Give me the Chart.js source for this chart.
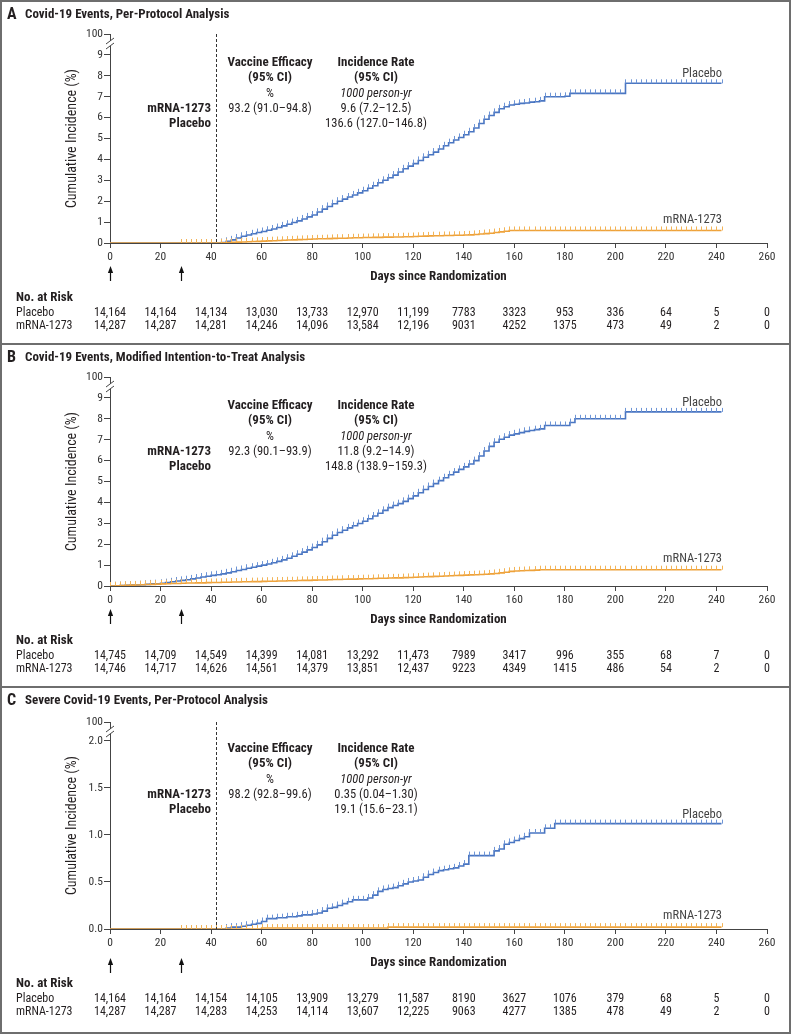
<!DOCTYPE html>
<html>
<head>
<meta charset="utf-8">
<title>Cumulative incidence of Covid-19 events</title>
<script src="https://cdn.jsdelivr.net/npm/chart.js@4.4.1/dist/chart.umd.min.js"></script>
<style>
  body { margin: 0; background: #fff; }
  #fig { width: 787px; border: 2px solid #6e6e6e; }
  .panel { border-bottom: 2px solid #6e6e6e; }
  .panel:last-child { border-bottom: none; }
  canvas { display: block; }
</style>
</head>
<body>
<div id="fig">
  <div class="panel"><canvas id="panelA" width="787" height="341"></canvas></div>
  <div class="panel"><canvas id="panelB" width="787" height="341"></canvas></div>
  <div class="panel"><canvas id="panelC" width="787" height="344"></canvas></div>
</div>
<script>
"use strict";

// 1: data (every 2 days)
const days = [
  0, 2, 4, 6, 8, 10, 12, 14, 16, 18,
  20, 22, 24, 26, 28, 30, 32, 34, 36, 38,
  40, 42, 44, 46, 48, 50, 52, 54, 56, 58,
  60, 62, 64, 66, 68, 70, 72, 74, 76, 78,
  80, 82, 84, 86, 88, 90, 92, 94, 96, 98,
  100, 102, 104, 106, 108, 110, 112, 114, 116, 118,
  120, 122, 124, 126, 128, 130, 132, 134, 136, 138,
  140, 142, 144, 146, 148, 150, 152, 154, 156, 158,
  160, 162, 164, 166, 168, 170, 172, 174, 176, 178,
  180, 182, 184, 186, 188, 190, 192, 194, 196, 198,
  200, 202, 204, 206, 208, 210, 212, 214, 216, 218,
  220, 222, 224, 226, 228, 230, 232, 234, 236, 238,
  240, 242
];

// A: Covid-19, per-protocol (%)
const placeboA = [
  0, 0, 0, 0, 0, 0, 0, 0, 0, 0,
  0, 0, 0, 0, 0, 0, 0, 0, 0, 0,
  0, 0, 0.02, 0.08, 0.15, 0.24, 0.32, 0.38, 0.44, 0.5,
  0.55, 0.61, 0.67, 0.74, 0.82, 0.9, 0.98, 1.06, 1.15, 1.25,
  1.34, 1.48, 1.62, 1.75, 1.88, 2.0, 2.1, 2.2, 2.3, 2.4,
  2.5, 2.62, 2.74, 2.88, 3.0, 3.12, 3.25, 3.4, 3.55, 3.68,
  3.8, 3.95, 4.1, 4.22, 4.35, 4.5, 4.65, 4.8, 4.93, 5.05,
  5.18, 5.32, 5.5, 5.72, 5.92, 6.1, 6.25, 6.42, 6.52, 6.6,
  6.64, 6.68, 6.7, 6.74, 6.76, 6.8, 7.0, 7.0, 7.0, 7.0,
  7.02, 7.16, 7.16, 7.16, 7.16, 7.16, 7.16, 7.16, 7.16, 7.16,
  7.16, 7.16, 7.64, 7.64, 7.64, 7.64, 7.64, 7.64, 7.64, 7.64,
  7.64, 7.64, 7.64, 7.64, 7.64, 7.64, 7.64, 7.64, 7.64, 7.64,
  7.64, 7.64
];
const mrnaA = [
  0, 0, 0, 0, 0, 0, 0, 0, 0, 0,
  0, 0, 0, 0, 0, 0, 0, 0, 0, 0,
  0, 0, 0.01, 0.02, 0.03, 0.04, 0.05, 0.06, 0.07, 0.08,
  0.09, 0.1, 0.11, 0.12, 0.13, 0.14, 0.15, 0.16, 0.17, 0.18,
  0.19, 0.2, 0.2, 0.21, 0.22, 0.23, 0.23, 0.24, 0.25, 0.25,
  0.26, 0.26, 0.27, 0.27, 0.28, 0.28, 0.29, 0.29, 0.3, 0.3,
  0.31, 0.32, 0.33, 0.34, 0.35, 0.35, 0.36, 0.36, 0.37, 0.37,
  0.38, 0.39, 0.41, 0.43, 0.45, 0.47, 0.5, 0.53, 0.56, 0.6,
  0.6, 0.6, 0.6, 0.6, 0.6, 0.6, 0.6, 0.6, 0.6, 0.6,
  0.6, 0.6, 0.6, 0.6, 0.6, 0.6, 0.6, 0.6, 0.6, 0.6,
  0.6, 0.6, 0.6, 0.6, 0.6, 0.6, 0.6, 0.6, 0.6, 0.6,
  0.6, 0.6, 0.6, 0.6, 0.6, 0.6, 0.6, 0.6, 0.6, 0.6,
  0.6, 0.6
];

// B: Covid-19, modified intention-to-treat (%)
const placeboB = [
  0, 0.01, 0.02, 0.03, 0.04, 0.05, 0.06, 0.08, 0.1, 0.11,
  0.13, 0.16, 0.2, 0.24, 0.27, 0.3, 0.34, 0.38, 0.43, 0.47,
  0.51, 0.54, 0.58, 0.63, 0.68, 0.74, 0.79, 0.85, 0.9, 0.95,
  1.0, 1.05, 1.11, 1.18, 1.25, 1.33, 1.42, 1.52, 1.62, 1.73,
  1.84, 1.97, 2.12, 2.28, 2.43, 2.56, 2.67, 2.78, 2.88, 2.99,
  3.1, 3.22, 3.35, 3.48, 3.62, 3.75, 3.85, 3.94, 4.05, 4.18,
  4.31, 4.46, 4.62, 4.76, 4.9, 5.04, 5.18, 5.32, 5.45, 5.58,
  5.7, 5.84, 6.0, 6.22, 6.46, 6.68, 6.88, 7.02, 7.12, 7.22,
  7.28, 7.34, 7.4, 7.44, 7.48, 7.52, 7.68, 7.68, 7.68, 7.68,
  7.68, 7.82, 8.0, 8.0, 8.0, 8.0, 8.0, 8.0, 8.0, 8.0,
  8.0, 8.0, 8.33, 8.33, 8.33, 8.33, 8.33, 8.33, 8.33, 8.33,
  8.33, 8.33, 8.33, 8.33, 8.33, 8.33, 8.33, 8.33, 8.33, 8.33,
  8.33, 8.33
];
const mrnaB = [
  0, 0.01, 0.02, 0.03, 0.04, 0.05, 0.06, 0.07, 0.08, 0.09,
  0.1, 0.11, 0.12, 0.12, 0.13, 0.14, 0.14, 0.15, 0.15, 0.16,
  0.17, 0.17, 0.18, 0.18, 0.19, 0.19, 0.2, 0.2, 0.21, 0.21,
  0.22, 0.23, 0.23, 0.24, 0.24, 0.25, 0.25, 0.26, 0.27, 0.27,
  0.28, 0.29, 0.29, 0.3, 0.31, 0.31, 0.32, 0.33, 0.33, 0.34,
  0.35, 0.35, 0.36, 0.37, 0.37, 0.38, 0.39, 0.39, 0.4, 0.41,
  0.42, 0.43, 0.44, 0.45, 0.46, 0.47, 0.48, 0.49, 0.5, 0.51,
  0.52, 0.53, 0.54, 0.55, 0.56, 0.58, 0.6, 0.63, 0.66, 0.7,
  0.72, 0.73, 0.74, 0.75, 0.76, 0.78, 0.78, 0.78, 0.78, 0.78,
  0.78, 0.78, 0.78, 0.78, 0.78, 0.78, 0.78, 0.78, 0.78, 0.78,
  0.78, 0.78, 0.78, 0.78, 0.78, 0.78, 0.78, 0.78, 0.78, 0.78,
  0.78, 0.78, 0.78, 0.78, 0.78, 0.78, 0.78, 0.78, 0.78, 0.78,
  0.78, 0.78
];

// C: severe Covid-19, per-protocol (%)
const placeboC = [
  0, 0, 0, 0, 0, 0, 0, 0, 0, 0,
  0, 0, 0, 0, 0, 0, 0, 0, 0, 0,
  0, 0, 0, 0.01, 0.02, 0.02, 0.03, 0.04, 0.05, 0.06,
  0.08, 0.11, 0.11, 0.12, 0.12, 0.13, 0.13, 0.14, 0.15, 0.15,
  0.16, 0.17, 0.19, 0.22, 0.23, 0.25, 0.27, 0.29, 0.31, 0.31,
  0.31, 0.33, 0.36, 0.4, 0.42, 0.43, 0.44, 0.46, 0.48, 0.5,
  0.51, 0.52, 0.55, 0.58, 0.6, 0.62, 0.63, 0.64, 0.65, 0.67,
  0.69, 0.78, 0.78, 0.78, 0.78, 0.78, 0.83, 0.85, 0.9, 0.92,
  0.94, 0.96, 0.98, 1.02, 1.02, 1.02, 1.07, 1.07, 1.12, 1.12,
  1.12, 1.12, 1.12, 1.12, 1.12, 1.12, 1.12, 1.12, 1.12, 1.12,
  1.12, 1.12, 1.12, 1.12, 1.12, 1.12, 1.12, 1.12, 1.12, 1.12,
  1.12, 1.12, 1.12, 1.12, 1.12, 1.12, 1.12, 1.12, 1.12, 1.12,
  1.12, 1.12
];
const mrnaC = [
  0, 0, 0, 0, 0, 0, 0, 0, 0, 0,
  0, 0, 0, 0, 0, 0, 0, 0, 0, 0,
  0, 0, 0, 0, 0, 0, 0, 0, 0, 0,
  0.01, 0.01, 0.01, 0.01, 0.01, 0.01, 0.01, 0.01, 0.01, 0.01,
  0.01, 0.01, 0.01, 0.01, 0.01, 0.01, 0.01, 0.01, 0.01, 0.01,
  0.01, 0.01, 0.01, 0.01, 0.01, 0.02, 0.02, 0.02, 0.02, 0.02,
  0.02, 0.02, 0.02, 0.02, 0.02, 0.02, 0.02, 0.02, 0.02, 0.02,
  0.02, 0.02, 0.02, 0.02, 0.02, 0.02, 0.02, 0.02, 0.02, 0.02,
  0.02, 0.02, 0.02, 0.02, 0.02, 0.02, 0.02, 0.02, 0.02, 0.02,
  0.02, 0.02, 0.02, 0.02, 0.02, 0.02, 0.02, 0.02, 0.02, 0.02,
  0.02, 0.02, 0.02, 0.02, 0.02, 0.02, 0.02, 0.02, 0.02, 0.02,
  0.02, 0.02, 0.02, 0.02, 0.02, 0.02, 0.02, 0.02, 0.02, 0.02,
  0.02, 0.02
];

// y-axis ticks (the top tick is the broken "100" end of the axis)
const yTicksAB = [0, 1, 2, 3, 4, 5, 6, 7, 8, 9, 10];
const yLabelsAB = ['0', '1', '2', '3', '4', '5', '6', '7', '8', '9', '100'];
const yTicksC = [0, 0.5, 1, 1.5, 2, 2.2];
const yLabelsC = ['0.0', '0.5', '1.0', '1.5', '2.0', '100'];

// number at risk, at days 0, 20, ... 260
const riskDays = [0, 20, 40, 60, 80, 100, 120, 140, 160, 180, 200, 220, 240, 260];
const riskPlaceboA = [14164, 14164, 14134, 13030, 13733, 12970, 11199, 7783, 3323, 953, 336, 64, 5, 0];
const riskMrnaA = [14287, 14287, 14281, 14246, 14096, 13584, 12196, 9031, 4252, 1375, 473, 49, 2, 0];
const riskPlaceboB = [14745, 14709, 14549, 14399, 14081, 13292, 11473, 7989, 3417, 996, 355, 68, 7, 0];
const riskMrnaB = [14746, 14717, 14626, 14561, 14379, 13851, 12437, 9223, 4349, 1415, 486, 54, 2, 0];
const riskPlaceboC = [14164, 14164, 14154, 14105, 13909, 13279, 11587, 8190, 3627, 1076, 379, 68, 5, 0];
const riskMrnaC = [14287, 14287, 14283, 14253, 14114, 13607, 12225, 9063, 4277, 1385, 478, 49, 2, 0];

// efficacy / incidence text
const efficacy = ['93.2 (91.0–94.8)', '92.3 (90.1–93.9)', '98.2 (92.8–99.6)'];
const rateMrna = ['9.6 (7.2–12.5)', '11.8 (9.2–14.9)', '0.35 (0.04–1.30)'];
const ratePlacebo = ['136.6 (127.0–146.8)', '148.8 (138.9–159.3)', '19.1 (15.6–23.1)'];
const titles = [
  'Covid-19 Events, Per-Protocol Analysis',
  'Covid-19 Events, Modified Intention-to-Treat Analysis',
  'Severe Covid-19 Events, Per-Protocol Analysis'
];
const dosesAt = [0, 28];

// 2: helpers
const FONT = '"Roboto Condensed", "Lato", sans-serif';
const INK = '#231f20';
const BLUE = '#4a76c2';
const BLUE_TICK = '#6e95d6';
const ORANGE = '#eea23b';
const ORANGE_TICK = '#f3b457';

Chart.defaults.font.family = FONT;
Chart.defaults.color = INK;

function fmt(n) {
  return n >= 10000 ? n.toLocaleString('en-US') : String(n);
}

function points(ys) {
  return days.map((d, i) => ({ x: d, y: ys[i] }));
}

function txt(ctx, s, x, y, font, align, color) {
  ctx.font = font;
  ctx.textAlign = align || 'left';
  ctx.textBaseline = 'middle';
  ctx.fillStyle = color || INK;
  ctx.fillText(s, x, y);
}

// 3: create one panel
function appendPanel(id, p) {
  const deco = {
    id: 'deco',
    afterDatasetsDraw(chart) {
      const ctx = chart.ctx;
      // censoring ticks
      chart.data.datasets.slice().reverse().forEach((ds) => {
        const meta = chart.getDatasetMeta(chart.data.datasets.indexOf(ds));
        ctx.save();
        ctx.strokeStyle = ds.tickColor;
        ctx.lineWidth = 1;
        ctx.beginPath();
        meta.data.forEach((el, j) => {
          if (days[j] < p.tickFrom) return;
          ctx.moveTo(Math.round(el.x) + 0.5, el.y);
          ctx.lineTo(Math.round(el.x) + 0.5, el.y - 4);
        });
        ctx.stroke();
        ctx.restore();
      });
    },
    afterDraw(chart) {
      const ctx = chart.ctx;
      const a = chart.chartArea;
      const xs = chart.scales.x;
      const ys = chart.scales.y;
      const y0 = a.bottom;
      ctx.save();

      // panel title
      txt(ctx, p.letter, 5, 13, 'bold 16px ' + FONT);
      txt(ctx, p.title, 23, 13, 'bold 13px ' + FONT);

      // axis break
      ctx.fillStyle = '#fff';
      ctx.fillRect(a.left - 2, a.top + 7, 4, 5);
      ctx.strokeStyle = '#444';
      ctx.lineWidth = 1;
      ctx.beginPath();
      ctx.moveTo(a.left - 4, a.top + 10); ctx.lineTo(a.left + 4, a.top + 4);
      ctx.moveTo(a.left - 4, a.top + 15); ctx.lineTo(a.left + 4, a.top + 9);
      ctx.stroke();

      // y-axis title
      ctx.save();
      ctx.translate(70, (a.top + a.bottom) / 2);
      ctx.rotate(-Math.PI / 2);
      txt(ctx, 'Cumulative Incidence (%)', 0, 0, '14px ' + FONT, 'center');
      ctx.restore();

      // dashed line at day 42
      if (p.dashAt !== null) {
        const xd = Math.round(xs.getPixelForValue(p.dashAt)) + 0.5;
        ctx.strokeStyle = '#333';
        ctx.setLineDash([3, 2]);
        ctx.beginPath();
        ctx.moveTo(xd, a.top);
        ctx.lineTo(xd, a.bottom);
        ctx.stroke();
        ctx.setLineDash([]);
      }

      // efficacy block
      const bold = 'bold 13px ' + FONT;
      const reg = '12.5px ' + FONT;
      const xVE = 268, xIR = 374, xG = 209;
      txt(ctx, 'Vaccine Efficacy', xVE, y0 - 180, bold, 'center');
      txt(ctx, '(95% CI)', xVE, y0 - 165, bold, 'center');
      txt(ctx, '%', xVE, y0 - 149, reg, 'center');
      txt(ctx, p.efficacy, xVE, y0 - 134, reg, 'center');
      txt(ctx, 'Incidence Rate', xIR, y0 - 180, bold, 'center');
      txt(ctx, '(95% CI)', xIR, y0 - 165, bold, 'center');
      txt(ctx, '1000 person-yr', xIR, y0 - 149, 'italic 12.5px ' + FONT, 'center');
      txt(ctx, p.rateMrna, xIR, y0 - 134, reg, 'center');
      txt(ctx, p.ratePlacebo, xIR, y0 - 119, reg, 'center');
      txt(ctx, 'mRNA-1273', xG, y0 - 134, bold, 'right');
      txt(ctx, 'Placebo', xG, y0 - 119, bold, 'right');

      // curve end labels
      const pl = p.placebo, mr = p.mrna;
      txt(ctx, 'Placebo', 720, ys.getPixelForValue(pl[pl.length - 1]) - 9, '12.5px ' + FONT, 'right', '#444');
      txt(ctx, 'mRNA-1273', 720, ys.getPixelForValue(mr[mr.length - 1]) - 11, '12.5px ' + FONT, 'right', '#444');

      // dose arrows
      ctx.fillStyle = '#111';
      ctx.strokeStyle = '#111';
      ctx.lineWidth = 1.2;
      dosesAt.forEach((d) => {
        const xa = Math.round(xs.getPixelForValue(d)) + 0.5;
        const t = y0 + p.arrowTop;
        ctx.beginPath();
        ctx.moveTo(xa, t + 5);
        ctx.lineTo(xa, t + 15);
        ctx.stroke();
        ctx.beginPath();
        ctx.moveTo(xa, t);
        ctx.lineTo(xa - 2.6, t + 7);
        ctx.lineTo(xa + 2.6, t + 7);
        ctx.closePath();
        ctx.fill();
      });

      // x-axis title
      txt(ctx, 'Days since Randomization', (a.left + a.right) / 2, y0 + 34, bold, 'center');

      // number at risk
      txt(ctx, 'No. at Risk', 14, y0 + 55, bold);
      txt(ctx, 'Placebo', 14, y0 + 70, '12px ' + FONT);
      txt(ctx, 'mRNA-1273', 14, y0 + 83, '12px ' + FONT);
      riskDays.forEach((d, i) => {
        const xr = xs.getPixelForValue(d);
        txt(ctx, fmt(p.riskPlacebo[i]), xr, y0 + 70, '12px ' + FONT, 'center');
        txt(ctx, fmt(p.riskMrna[i]), xr, y0 + 83, '12px ' + FONT, 'center');
      });
      ctx.restore();
    }
  };

  const axisColor = '#444';
  return new Chart(document.getElementById(id), {
    type: 'line',
    data: {
      datasets: [{
        label: 'mRNA-1273',
        data: points(p.mrna),
        borderColor: ORANGE,
        tickColor: ORANGE_TICK,
        borderWidth: 1.6,
        stepped: true,
        pointRadius: 0
      }, {
        label: 'Placebo',
        data: points(p.placebo),
        borderColor: BLUE,
        tickColor: BLUE_TICK,
        borderWidth: 1.6,
        stepped: true,
        pointRadius: 0
      }]
    },
    options: {
      responsive: false,
      animation: false,
      events: [],
      layout: { padding: { top: p.top, bottom: p.bottom, left: 0, right: 22 } },
      plugins: { legend: { display: false }, tooltip: { enabled: false } },
      scales: {
        x: {
          type: 'linear',
          min: 0,
          max: 260,
          afterFit: (s) => { s.height = 20; },
          ticks: { stepSize: 20, padding: 2, font: { size: 11.5 }, color: '#333', maxRotation: 0 },
          grid: { drawOnChartArea: false, tickLength: 5, color: axisColor },
          border: { color: axisColor }
        },
        y: {
          type: 'linear',
          min: 0,
          max: p.yTicks[p.yTicks.length - 1],
          afterFit: (s) => { s.width = 108; },
          afterBuildTicks: (s) => { s.ticks = p.yTicks.map((v) => ({ value: v })); },
          ticks: {
            padding: 1,
            font: { size: 11.5 },
            color: '#333',
            callback: (v, i) => p.yLabels[i]
          },
          grid: { drawOnChartArea: false, tickLength: 6, color: axisColor },
          border: { color: axisColor }
        }
      }
    },
    plugins: [deco]
  });
}

appendPanel('panelA', {
  letter: 'A', title: titles[0], placebo: placeboA, mrna: mrnaA,
  yTicks: yTicksAB, yLabels: yLabelsAB, top: 32, bottom: 80,
  tickFrom: 28, dashAt: 42, arrowTop: 23,
  efficacy: efficacy[0], rateMrna: rateMrna[0], ratePlacebo: ratePlacebo[0],
  riskPlacebo: riskPlaceboA, riskMrna: riskMrnaA
});
appendPanel('panelB', {
  letter: 'B', title: titles[1], placebo: placeboB, mrna: mrnaB,
  yTicks: yTicksAB, yLabels: yLabelsAB, top: 32, bottom: 80,
  tickFrom: 0, dashAt: null, arrowTop: 23,
  efficacy: efficacy[1], rateMrna: rateMrna[1], ratePlacebo: ratePlacebo[1],
  riskPlacebo: riskPlaceboB, riskMrna: riskMrnaB
});
appendPanel('panelC', {
  letter: 'C', title: titles[2], placebo: placeboC, mrna: mrnaC,
  yTicks: yTicksC, yLabels: yLabelsC, top: 34, bottom: 83,
  tickFrom: 28, dashAt: 42, arrowTop: 29,
  efficacy: efficacy[2], rateMrna: rateMrna[2], ratePlacebo: ratePlacebo[2],
  riskPlacebo: riskPlaceboC, riskMrna: riskMrnaC
});
</script>
</body>
</html>
